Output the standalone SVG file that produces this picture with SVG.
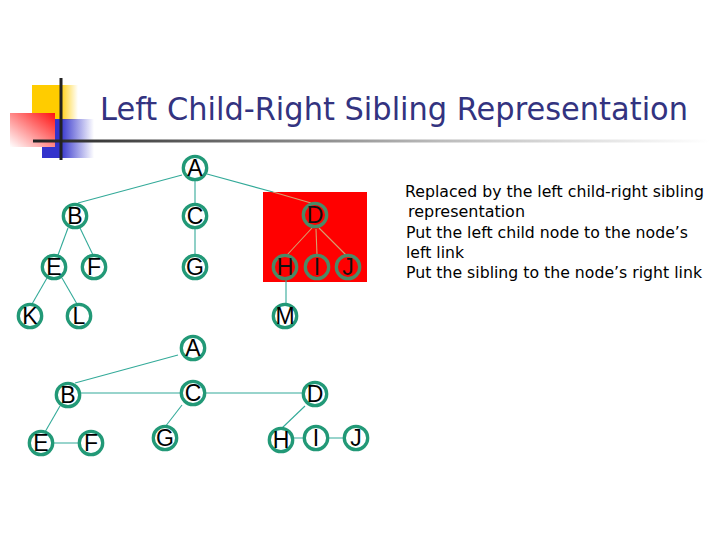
<svg xmlns="http://www.w3.org/2000/svg" width="720" height="540" viewBox="0 0 720 540">
<style>
.n circle{fill:#fff;stroke:#229977;stroke-width:3.3}
.n text{font-family:"Liberation Sans",Arial,sans-serif;font-size:23px;fill:#000;text-anchor:middle}
.n.r circle{fill:#ff0000;stroke:#4a8a66}
.n.r text{fill:#111}
.c line{stroke:#33aa99;stroke-width:1.1}
.c line.t{stroke:#d4a070}
.note{font-family:"DejaVu Sans",Verdana,sans-serif;font-size:15.5px;fill:#000}
</style>
<defs>
<linearGradient id="gy" x1="0" x2="1" y1="0" y2="0"><stop offset="0.6" stop-color="#ffcc00"/><stop offset="1" stop-color="#ffcc00" stop-opacity="0"/></linearGradient>
<linearGradient id="gb" x1="0" x2="1" y1="0" y2="0"><stop offset="0.35" stop-color="#3333cc"/><stop offset="1" stop-color="#3333cc" stop-opacity="0"/></linearGradient>
<linearGradient id="gr" x1="0" x2="1" y1="1" y2="0"><stop offset="0" stop-color="#ffffff"/><stop offset="1" stop-color="#ff1111"/></linearGradient>
<linearGradient id="gl" x1="33" x2="710" y1="0" y2="0" gradientUnits="userSpaceOnUse"><stop offset="0" stop-color="#222"/><stop offset="0.6" stop-color="#bbb"/><stop offset="1" stop-color="#fff"/></linearGradient>
</defs>
<rect width="720" height="540" fill="#fff"/>
<g id="logo">
<rect x="32" y="85" width="46" height="35" fill="url(#gy)"/>
<rect x="42" y="119" width="52" height="39" fill="url(#gb)"/>
<rect x="10" y="113" width="45" height="34" fill="url(#gr)"/>
<rect x="33" y="139.5" width="677" height="3" fill="url(#gl)"/>
<rect x="59.5" y="78" width="3" height="82" fill="#222"/>
</g>
<text x="100" y="120" font-family="'DejaVu Sans',Verdana,sans-serif" font-size="32" fill="#333380" textLength="588" lengthAdjust="spacingAndGlyphs">Left Child-Right Sibling Representation</text>
<rect x="263" y="192" width="104" height="90" fill="#ff0000"/>
<g class="c" id="connectors">
<line x1="182" y1="175" x2="78" y2="203"/>
<line x1="195" y1="181" x2="195" y2="204"/>
<line x1="207" y1="174" x2="273" y2="192"/>
<line class="t" x1="273" y1="192" x2="311" y2="203"/>
<line x1="68" y1="228" x2="58" y2="255"/>
<line x1="80" y1="228" x2="93" y2="255"/>
<line x1="47" y1="278" x2="32" y2="304"/>
<line x1="62" y1="278" x2="77" y2="304"/>
<line x1="195" y1="229" x2="195" y2="255"/>
<line class="t" x1="312" y1="228" x2="287" y2="255"/>
<line class="t" x1="316" y1="229" x2="317" y2="255"/>
<line class="t" x1="319" y1="228" x2="346" y2="255"/>
<line x1="286" y1="280" x2="286" y2="304"/>
<line x1="178" y1="355" x2="75" y2="383"/>
<line x1="68" y1="393" x2="315" y2="393"/>
<line x1="60" y1="406" x2="45" y2="432"/>
<line x1="41" y1="443" x2="91" y2="443"/>
<line x1="182" y1="405" x2="165" y2="427"/>
<line x1="305" y1="406" x2="282" y2="428"/>
<line x1="281" y1="438" x2="356" y2="438"/>
</g>
<g class="n" id="t1-A"><circle cx="195" cy="168" r="11.7"/><text x="195" y="176">A</text></g>
<g class="n" id="t1-B"><circle cx="75" cy="216" r="11.7"/><text x="75" y="224">B</text></g>
<g class="n" id="t1-C"><circle cx="195" cy="216" r="11.7"/><text x="195" y="224">C</text></g>
<g class="n r" id="t1-D"><circle cx="315" cy="215" r="11.7"/><text x="315" y="223">D</text></g>
<g class="n" id="t1-E"><circle cx="54" cy="267" r="11.7"/><text x="54" y="275">E</text></g>
<g class="n" id="t1-F"><circle cx="94" cy="267" r="11.7"/><text x="94" y="275">F</text></g>
<g class="n" id="t1-G"><circle cx="195" cy="267" r="11.7"/><text x="195" y="275">G</text></g>
<g class="n r" id="t1-H"><circle cx="285" cy="267" r="11.7"/><text x="285" y="275">H</text></g>
<g class="n r" id="t1-I"><circle cx="317" cy="267" r="11.7"/><text x="317" y="275">I</text></g>
<g class="n r" id="t1-J"><circle cx="348" cy="267" r="11.7"/><text x="348" y="275">J</text></g>
<g class="n" id="t1-K"><circle cx="30" cy="316" r="11.7"/><text x="30" y="324">K</text></g>
<g class="n" id="t1-L"><circle cx="79" cy="316" r="11.7"/><text x="79" y="324">L</text></g>
<g class="n" id="t1-M"><circle cx="285" cy="316" r="11.7"/><text x="285" y="324">M</text></g>
<g class="n" id="t2-A"><circle cx="193" cy="348" r="11.7"/><text x="193" y="356">A</text></g>
<g class="n" id="t2-B"><circle cx="68" cy="395" r="11.7"/><text x="68" y="403">B</text></g>
<g class="n" id="t2-C"><circle cx="193" cy="393" r="11.7"/><text x="193" y="401">C</text></g>
<g class="n" id="t2-D"><circle cx="315" cy="394" r="11.7"/><text x="315" y="402">D</text></g>
<g class="n" id="t2-E"><circle cx="41" cy="443" r="11.7"/><text x="41" y="451">E</text></g>
<g class="n" id="t2-F"><circle cx="91" cy="443" r="11.7"/><text x="91" y="451">F</text></g>
<g class="n" id="t2-G"><circle cx="165" cy="438" r="11.7"/><text x="165" y="446">G</text></g>
<g class="n" id="t2-H"><circle cx="281" cy="440" r="11.7"/><text x="281" y="448">H</text></g>
<g class="n" id="t2-I"><circle cx="316" cy="438" r="11.7"/><text x="316" y="446">I</text></g>
<g class="n" id="t2-J"><circle cx="356" cy="438" r="11.7"/><text x="356" y="446">J</text></g>
<g id="notes" class="note">
<text x="405" y="197" textLength="299" lengthAdjust="spacingAndGlyphs">Replaced by the left child-right sibling</text>
<text x="408" y="217" textLength="117" lengthAdjust="spacingAndGlyphs">representation</text>
<text x="406" y="238" textLength="282" lengthAdjust="spacingAndGlyphs">Put the left child node to the node’s</text>
<text x="406" y="258" textLength="58" lengthAdjust="spacingAndGlyphs">left link</text>
<text x="406" y="278" textLength="296" lengthAdjust="spacingAndGlyphs">Put the sibling to the node’s right link</text>
</g>
</svg>
